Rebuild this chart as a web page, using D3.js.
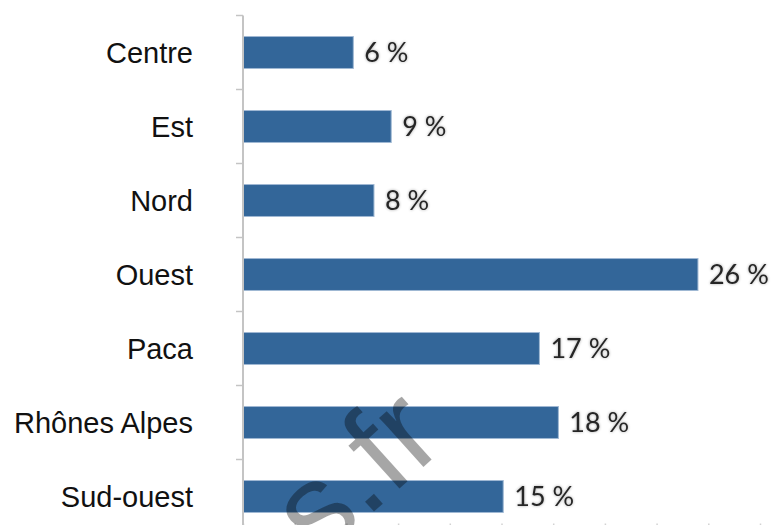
<!DOCTYPE html>
<html>
<head>
<meta charset="utf-8">
<script src="https://cdn.jsdelivr.net/npm/d3@7"></script>
<style>
  html, body { margin: 0; padding: 0; background: #fff; }
  svg { display: block; }
</style>
</head>
<body>
<svg id="chart" width="772" height="525"></svg>
<script>
const categories = ["Centre", "Est", "Nord", "Ouest", "Paca", "Rhônes Alpes", "Sud-ouest"];
const values = [6.4, 8.6, 7.6, 26.4, 17.2, 18.3, 15.1];
const xTicks = [0, 3, 6, 9, 12, 15, 18, 21, 24, 27, 30];
const watermark = "s.fr";

const svg = d3.select("#chart");
const W = 772, H = 525;

const x = d3.scaleLinear().domain([0, 30]).range([243, 760]);
const y = d3.scaleBand().domain(categories).range([15.5, 533.5])
  .paddingInner(0.568).paddingOuter(0.284);

// defs: soft shadow for value labels
const defs = svg.append("defs");
const f = defs.append("filter").attr("id", "glow").attr("x", "-20%").attr("y", "-30%").attr("width", "140%").attr("height", "160%");
f.append("feGaussianBlur").attr("in", "SourceAlpha").attr("stdDeviation", 1.6).attr("result", "b");
f.append("feComponentTransfer").attr("in", "b").attr("result", "b2")
  .append("feFuncA").attr("type", "linear").attr("slope", 0.35);
const m = f.append("feMerge");
m.append("feMergeNode").attr("in", "b2");
m.append("feMergeNode").attr("in", "SourceGraphic");

// bottom axis (tick marks only, axis line sits just below the view)
const xAxis = d3.axisBottom(x).tickValues(xTicks).tickSizeInner(-10).tickSizeOuter(0).tickFormat("");
const gx = svg.append("g").attr("transform", `translate(0,${y.range()[1]})`).call(xAxis);
gx.selectAll("line").attr("stroke", "#d2d2d2").attr("stroke-width", 1.5);
gx.select(".domain").attr("stroke", "#d2d2d2");

// bars
svg.append("g").selectAll("rect").data(categories).join("rect")
  .attr("x", x(0))
  .attr("y", d => y(d))
  .attr("width", (d, i) => x(values[i]) - x(0))
  .attr("height", y.bandwidth())
  .attr("fill", "#336699")
  .attr("stroke", "#9fb8d3")
  .attr("stroke-width", 1);

// left axis line with ticks at category boundaries
const step = y.step();
const r0 = y.range()[0];
const boundaries = d3.range(categories.length + 1).map(i => r0 + i * step);
const gy = svg.append("g");
gy.append("line").attr("x1", x(0)).attr("x2", x(0)).attr("y1", r0).attr("y2", H + 10)
  .attr("stroke", "#c4c4c4").attr("stroke-width", 2);
gy.selectAll("line.tick").data(boundaries).join("line").attr("class", "tick")
  .attr("x1", x(0) - 7).attr("x2", x(0)).attr("y1", d => d).attr("y2", d => d)
  .attr("stroke", "#c4c4c4").attr("stroke-width", 1.5);

// category labels
svg.append("g").selectAll("text").data(categories).join("text")
  .attr("x", 193)
  .attr("y", d => y(d) + y.bandwidth() / 2)
  .attr("dy", "0.36em")
  .attr("text-anchor", "end")
  .attr("font-family", "'Liberation Sans', Arial, sans-serif")
  .attr("font-size", 29)
  .attr("fill", "#111")
  .text(d => d);

// value labels
svg.append("g").attr("filter", "url(#glow)").selectAll("text").data(categories).join("text")
  .attr("x", (d, i) => x(values[i]) + 11)
  .attr("y", d => y(d) + y.bandwidth() / 2)
  .attr("dy", "0.36em")
  .attr("font-family", "Lato, 'Open Sans', sans-serif")
  .attr("font-size", 27)
  .attr("fill", "#262626")
  .text((d, i) => Math.round(values[i]) + " %");

// watermark
svg.append("text")
  .attr("transform", "translate(319,561) rotate(-42)")
  .attr("font-family", "'Liberation Sans', Arial, sans-serif")
  .attr("font-size", 125)
  .attr("fill", "#000")
  .attr("fill-opacity", 0.35)
  .text(watermark);
</script>
</body>
</html>
